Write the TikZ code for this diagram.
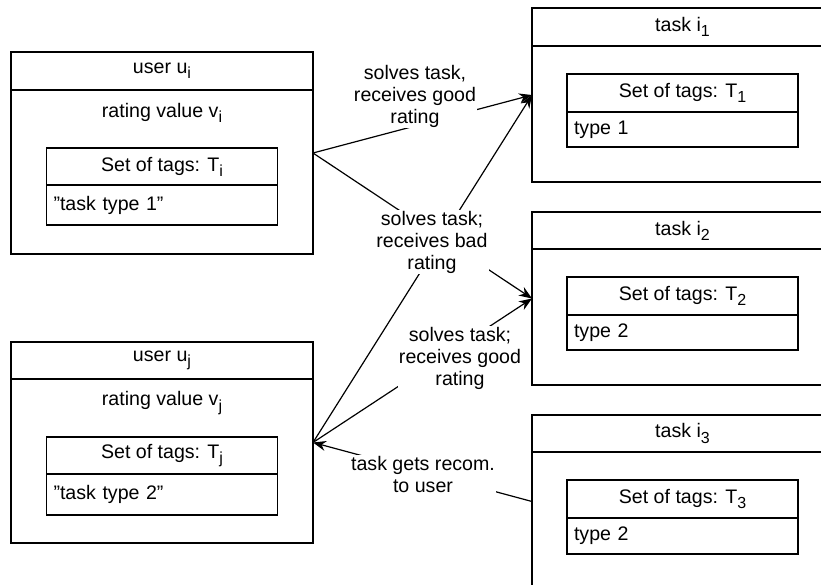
\documentclass[tikz,border=0pt]{standalone}
\usepackage{fontspec}
\setmainfont{Liberation Sans}[Ligatures=ResetAll]
\usepackage{tikz}
\usetikzlibrary{positioning,arrows.meta}
\newcommand{\lowidx}[1]{\raisebox{-0.5ex}{\fontsize{16}{16}\selectfont #1}}
\tikzset{
  every node/.style={font=\fontsize{19.6}{22}\selectfont},
  outerbox/.style={draw, line width=1.3pt, inner sep=0pt, outer sep=0pt},
  tagbox/.style={draw, line width=1.3pt, minimum width=231pt, inner sep=0pt, outer sep=0pt},
  typebox/.style={tagbox, inner xsep=7pt, text width=217pt, align=left},
  conn/.style={-{Stealth[length=13pt,width=10pt]}, line width=1.2pt},
  lbl/.style={fill=white, align=center, inner sep=1pt}
}

\begin{document}
\begin{tikzpicture}[x=1pt,y=-1pt]
\useasboundingbox (0,0) rectangle (821,585);
\clip (0,0) rectangle (821,585);
% users
\begin{scope}[shift={(11,52)}]
	\node[outerbox, minimum width=302pt, minimum height=202pt] (ui) at (151,101) {};
	\draw[line width=1.3pt] (0,38) -- (302,38);
	\node (ui-name) at (151,19) {user u\lowidx{i}};
	\node (ui-rate) at (151,61) {rating value v\lowidx{i}};
	\node[tagbox, minimum height=37pt] (ui-tags) at (151,114.5) {Set of tags: T\lowidx{i}};
	\node[typebox, minimum height=40pt, below=0pt of ui-tags] (ui-type) {"task type 1"};
\end{scope}
\begin{scope}[shift={(11,342)}]
	\node[outerbox, minimum width=302pt, minimum height=201pt] (uj) at (151,100.5) {};
	\draw[line width=1.3pt] (0,37) -- (302,37);
	\node (uj-name) at (151,18.5) {user u\lowidx{j}};
	\node (uj-rate) at (151,61) {rating value v\lowidx{j}};
	\node[tagbox, minimum height=37pt] (uj-tags) at (151,113.5) {Set of tags: T\lowidx{j}};
	\node[typebox, minimum height=41pt, below=0pt of uj-tags] (uj-type) {"task type 2"};
\end{scope}
% tasks
\begin{scope}[shift={(532,8)}]
	\node[outerbox, minimum width=301pt, minimum height=174pt] (ti1) at (150.5,87) {};
	\draw[line width=1.3pt] (0,38) -- (301,38);
	\node (ti1-name) at (150.5,19) {task i\lowidx{1}};
	\node[tagbox, minimum height=38pt] (ti1-tags) at (150.5,85) {Set of tags: T\lowidx{1}};
	\node[typebox, minimum height=35pt, below=0pt of ti1-tags] (ti1-type) {type 1};
\end{scope}
\begin{scope}[shift={(532,212)}]
	\node[outerbox, minimum width=301pt, minimum height=173pt] (ti2) at (150.5,86.5) {};
	\draw[line width=1.3pt] (0,37) -- (301,37);
	\node (ti2-name) at (150.5,18.5) {task i\lowidx{2}};
	\node[tagbox, minimum height=38pt] (ti2-tags) at (150.5,84) {Set of tags: T\lowidx{2}};
	\node[typebox, minimum height=35pt, below=0pt of ti2-tags] (ti2-type) {type 2};
\end{scope}
\begin{scope}[shift={(532,415)}]
	\node[outerbox, minimum width=301pt, minimum height=173pt] (ti3) at (150.5,86.5) {};
	\draw[line width=1.3pt] (0,37) -- (301,37);
	\node (ti3-name) at (150.5,18.5) {task i\lowidx{3}};
	\node[tagbox, minimum height=38pt] (ti3-tags) at (150.5,84) {Set of tags: T\lowidx{3}};
	\node[typebox, minimum height=36pt, below=0pt of ti3-tags] (ti3-type) {type 2};
\end{scope}
% connectors
\draw[conn] (ui.east) -- (ti1.west);
\draw[conn] (ui.east) -- (ti2.west);
\draw[conn] (uj.east) -- (ti1.west);
\draw[conn] (uj.east) -- (ti2.west);
\draw[conn] (ti3.west) -- (uj.east);
\node[lbl] (good-i) at (415,96) {solves task,\\receives good\\rating};
\node[lbl] (bad) at (432,242) {solves task;\\receives bad\\rating};
\node[lbl] (good-j) at (460,358) {solves task;\\receives good\\rating};
\node[lbl] (recom) at (423,474) {task gets recom.\\to user};
\end{tikzpicture}
\end{document}
